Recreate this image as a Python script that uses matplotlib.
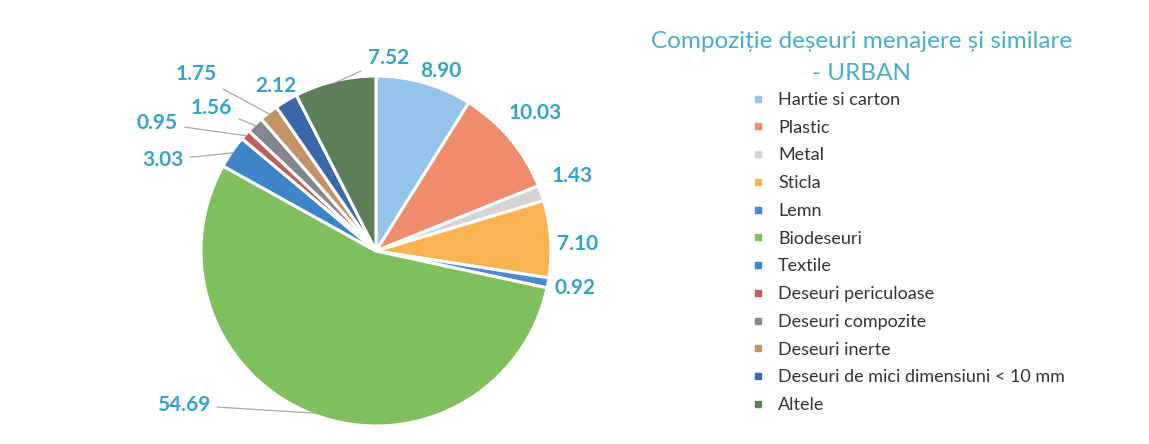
import numpy as np
import matplotlib.pyplot as plt
from matplotlib.lines import Line2D

# data ------------------------------------------------------------------------
categories = ['Hartie si carton', 'Plastic', 'Metal', 'Sticla', 'Lemn', 'Biodeseuri',
              'Textile', 'Deseuri periculoase', 'Deseuri compozite', 'Deseuri inerte',
              'Deseuri de mici dimensiuni < 10 mm', 'Altele']
values = [8.90, 10.03, 1.43, 7.10, 0.92, 54.69, 3.03, 0.95, 1.56, 1.75, 2.12, 7.52]
colors = ['#94C4EC', '#EF8C6C', '#D4D4D6', '#F8B450', '#4F86D6', '#7FBF5E',
          '#3D84C8', '#C05D5D', '#858590', '#C39366', '#3A68A8', '#5E7E5A']

# label positions (pie units, radius = 1) and whether a leader line is drawn
lab_pos = [(0.37, 1.03), (0.91, 0.79), (1.12, 0.43), (1.15, 0.04), (1.14, -0.21),
           (-1.10, -0.88), (-1.22, 0.52), (-1.25, 0.73), (-0.94, 0.82), (-1.03, 1.01),
           (-0.57, 0.94), (0.07, 1.10)]
leader = [False, False, False, False, False, True, True, True, True, True, False, True]

lab_col = '#35A3C6'

# plot ------------------------------------------------------------------------
W, H = 1149, 444
fig = plt.figure(figsize=(W / 100, H / 100), dpi=100)
plt.rcParams['font.family'] = ['Lato', 'DejaVu Sans']

cx, cy, R = 376, 251, 175   # pie centre / radius in pixels
hx, hy = 300, 185
ax = fig.add_axes([(cx - hx) / W, (H - cy - hy) / H, 2 * hx / W, 2 * hy / H])

wedges, _ = ax.pie(values, colors=colors, startangle=90, counterclock=False,
                   wedgeprops=dict(edgecolor='white', linewidth=2.2))
ax.set_xlim(-hx / R, hx / R)
ax.set_ylim(-hy / R, hy / R)
ax.set_aspect('auto')
ax.axis('off')

cum = np.cumsum([0] + values[:-1])
total = sum(values)
for i, v in enumerate(values):
    ang = np.deg2rad(90 - (cum[i] + v / 2) / total * 360)
    tx, ty = lab_pos[i]
    if leader[i]:
        ex, ey = np.cos(ang) * 0.99, np.sin(ang) * 0.99
        ax.annotate(f'{v:.2f}', xy=(ex, ey), xytext=(tx, ty), ha='center', va='center',
                    fontsize=15, fontweight='bold', color=lab_col,
                    arrowprops=dict(arrowstyle='-', color='#A8A8A8', lw=0.9,
                                    shrinkA=3, shrinkB=0))
    else:
        ax.text(tx, ty, f'{v:.2f}', ha='center', va='center', fontsize=15,
                fontweight='bold', color=lab_col)

fig.text(862 / W, 1 - 41 / H, 'Compoziție deșeuri menajere și similare', ha='center',
         va='center', fontsize=17.5, color='#4BADC9')
fig.text(862 / W, 1 - 73 / H, '- URBAN', ha='center', va='center', fontsize=17.5,
         color='#4BADC9')

handles = [Line2D([], [], marker='s', linestyle='none', markersize=5, color=c) for c in colors]
fig.legend(handles, categories, loc='upper left', bbox_to_anchor=(751 / W, 1 - 92 / H),
           frameon=False, fontsize=13, labelcolor='#333333', handlelength=0.8,
           handletextpad=0.7, labelspacing=0.65, borderpad=0, borderaxespad=0)

fig.savefig('out.png', dpi=100)
